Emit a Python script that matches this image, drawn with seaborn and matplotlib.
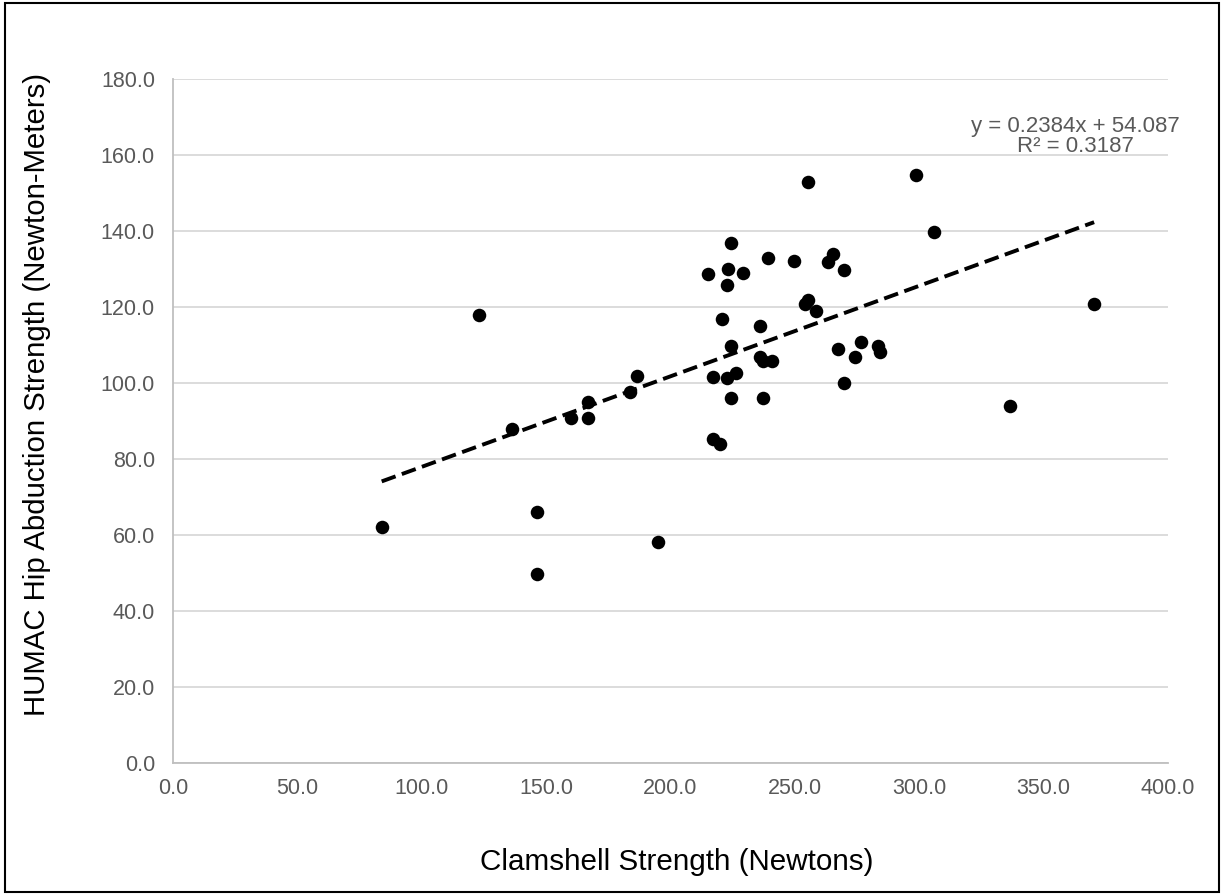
import matplotlib

matplotlib.use("Agg")

import matplotlib.pyplot as plt
import numpy as np
import pandas as pd
import seaborn as sns
from matplotlib.patches import Rectangle

# values
clamshell = [
    83.9, 122.9, 136.2, 146.2, 146.2, 160.0, 167.0, 167.0, 183.7, 186.6,
    195.0, 216.9, 219.9, 216.9, 222.6, 226.3, 224.2, 224.2, 220.8, 222.7,
    223.3, 224.2, 229.0, 215.2, 235.9, 235.9, 237.3, 240.9, 237.1, 239.3,
    249.8, 255.2, 254.1, 255.2, 258.5, 263.2, 265.5, 269.9, 267.5, 269.9,
    276.4, 274.3, 283.6, 284.2, 298.7, 305.9, 336.5, 370.3,
]
humac = [
    62.0, 118.0, 87.8, 65.9, 49.7, 90.9, 95.0, 90.9, 97.7, 101.8,
    58.1, 85.2, 83.9, 101.7, 101.4, 102.7, 96.0, 109.8, 116.8, 125.8,
    130.0, 137.0, 128.9, 128.6, 114.9, 106.9, 105.8, 105.8, 96.0, 133.0,
    132.1, 152.9, 120.8, 121.9, 118.9, 131.9, 134.0, 129.9, 109.0, 99.9,
    110.8, 106.8, 109.7, 108.2, 154.8, 139.9, 93.9, 120.8,
]
slope = 0.2384
intercept = 54.087
r_squared = 0.3187

x_ticks = [0, 50, 100, 150, 200, 250, 300, 350, 400]
y_ticks = [0, 20, 40, 60, 80, 100, 120, 140, 160, 180]

df = pd.DataFrame({"clamshell": clamshell, "humac": humac})

sns.set_theme(style="white")
plt.rcParams["font.family"] = ["Liberation Sans", "DejaVu Sans"]

fig = plt.figure(figsize=(12.23, 8.94), dpi=100)
ax = fig.add_axes([173 / 1223, 1 - 762.7 / 894, 995 / 1223, 683.4 / 894])

ax.set_axisbelow(True)
ax.yaxis.grid(True, color="#d9d9d9", linewidth=1.3)
ax.xaxis.grid(False)

sns.scatterplot(data=df, x="clamshell", y="humac", ax=ax, color="black",
                s=95, edgecolor="black", linewidth=0, zorder=3)

# trendline from the reported fit
xs = np.array([df["clamshell"].min(), df["clamshell"].max()])
ax.plot(xs, slope * xs + intercept, color="black", lw=2.8,
        dashes=(3.8, 1.7), dash_capstyle="butt", zorder=4)

ax.set_xlim(0, 400)
ax.set_ylim(0, 180)
ax.set_xticks(x_ticks)
ax.set_yticks(y_ticks)
ax.set_xticklabels([f"{v:.1f}" for v in x_ticks])
ax.set_yticklabels([f"{v:.1f}" for v in y_ticks])
ax.tick_params(axis="both", length=0, labelsize=15.5, labelcolor="#595959")
ax.tick_params(axis="x", pad=11)
ax.tick_params(axis="y", pad=13)
ax.set_xlabel("")
ax.set_ylabel("")

for side in ["top", "right"]:
    ax.spines[side].set_visible(False)
for side in ["left", "bottom"]:
    ax.spines[side].set_color("#bfbfbf")
    ax.spines[side].set_linewidth(1.3)

fig.text(1075 / 1223, 1 - 136.5 / 894,
         f"y = {slope}x + {intercept}\nR² = {r_squared}",
         ha="center", va="center", fontsize=16, color="#595959",
         linespacing=0.98)

fig.text(677 / 1223, 1 - 862 / 894, "Clamshell Strength (Newtons)",
         ha="center", va="center", fontsize=21.3, color="black")
fig.text(37 / 1223, 1 - 394.5 / 894, "HUMAC Hip Abduction Strength (Newton-Meters)",
         ha="center", va="center", rotation=90, fontsize=21.2, color="black")

fig.patches.append(Rectangle((0.004, 0.002), 0.993, 0.995, transform=fig.transFigure,
                             fill=False, edgecolor="black", linewidth=1.5))

fig.savefig("out.png", dpi=100)
plt.close(fig)
